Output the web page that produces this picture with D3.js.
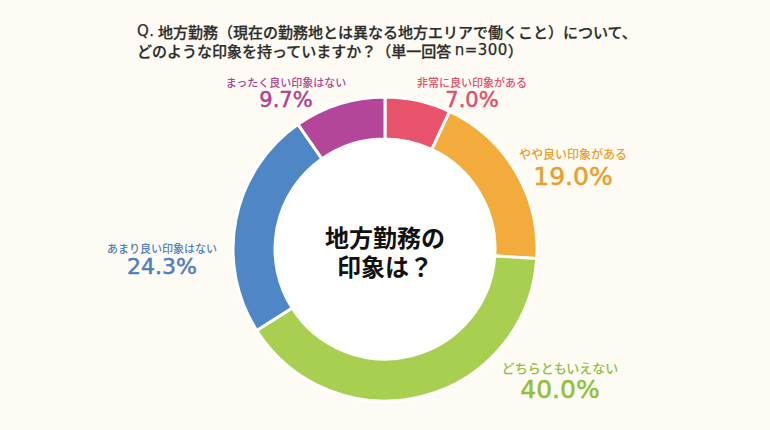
<!DOCTYPE html>
<html>
<head>
<meta charset="utf-8">
<script src="https://cdn.jsdelivr.net/npm/d3@7"></script>
<style>
  html, body { margin: 0; padding: 0; background: #fdfbf4; }
  svg { display: block; font-family: "Noto Sans CJK JP", "Noto Sans", sans-serif; }
  .latin, .pct { font-family: "DejaVu Sans", sans-serif; }
</style>
</head>
<body>
<svg id="chart" width="770" height="430"></svg>
<script>
// data
const categories = ['非常に良い印象がある', 'やや良い印象がある', 'どちらともいえない', 'あまり良い印象はない', 'まったく良い印象はない'];
const values = [7.0, 19.0, 40.0, 24.3, 9.7];
const colors = ['#e8526b', '#f3ac3c', '#a8cf4f', '#4f86c6', '#b3459a'];
const labelColors = ['#e04f69', '#eb9d2c', '#8fbf3b', '#4c7fc0', '#b0428f'];
const titleLines = ['Q. 地方勤務（現在の勤務地とは異なる地方エリアで働くこと）について、', 'どのような印象を持っていますか？（単一回答 n=300）'];
const centerLines = ['地方勤務の', '印象は？'];

// layout
const W = 770, H = 430;
const cx = 385, cy = 249;
const outerR = 152, innerR = 110;
// hand-placed labels, relative to the centre: [x, name y, percent baseline, name size, percent size]
const labelLayout = [
    [87, -167, -142, 11, 21],
    [188, -96, -64, 12, 25],
    [175, 118, 149, 13, 25],
    [-223, -1, 25, 11, 22],
    [-99, -167, -142, 11, 21]
];

const svg = d3.select('#chart');

svg.append('rect')
    .attr('width', W)
    .attr('height', H)
    .attr('fill', '#fdfbf4');

// title: latin runs get a wider face, like the original
const isLatin = s => /^[A-Za-z0-9=.]+$/.test(s);
const title = svg.append('g')
    .selectAll('text')
    .data(titleLines)
    .enter()
    .append('text')
    .attr('x', 137)
    .attr('y', (d, i) => 31 + i * 19)
    .attr('dominant-baseline', 'central')
    .attr('font-size', 15)
    .attr('font-weight', 500)
    .attr('fill', '#2b2b2b')
    .attr('stroke', '#2b2b2b')
    .attr('stroke-width', 0.25);

title.each(function (d) {
    const parts = d.split(/([A-Za-z0-9=.]+)/).filter(s => s.length);
    d3.select(this)
        .selectAll('tspan')
        .data(parts)
        .enter()
        .append('tspan')
        .attr('class', s => isLatin(s) ? 'latin' : null)
        .attr('letter-spacing', s => isLatin(s) ? 0.5 : null)
        .text(s => s);
});

const pie = d3.pie().sort(null).value(d => d);
const arc = d3.arc().innerRadius(innerR).outerRadius(outerR);

const g = svg.append('g').attr('transform', `translate(${cx},${cy})`);

g.append('circle')
    .attr('r', innerR)
    .attr('fill', '#fff');

g.selectAll('path')
    .data(pie(values))
    .enter()
    .append('path')
    .attr('d', arc)
    .attr('fill', (d, i) => colors[i])
    .attr('stroke', '#fff')
    .attr('stroke-width', 3);

g.append('g')
    .selectAll('text')
    .data(centerLines)
    .enter()
    .append('text')
    .attr('x', 0)
    .attr('y', (d, i) => -13 + i * 29)
    .attr('text-anchor', 'middle')
    .attr('dominant-baseline', 'central')
    .attr('font-size', 24)
    .attr('font-weight', 'bold')
    .attr('fill', '#111')
    .text(d => d);

const labels = g.append('g')
    .selectAll('g')
    .data(categories)
    .enter()
    .append('g')
    .attr('transform', (d, i) => `translate(${labelLayout[i][0]},0)`);

labels.append('text')
    .attr('y', (d, i) => labelLayout[i][1])
    .attr('text-anchor', 'middle')
    .attr('dominant-baseline', 'central')
    .attr('font-size', (d, i) => labelLayout[i][3])
    .attr('font-weight', 500)
    .attr('fill', (d, i) => labelColors[i])
    .text(d => d);

labels.append('text')
    .attr('class', 'pct')
    .attr('y', (d, i) => labelLayout[i][2])
    .attr('text-anchor', 'middle')
    .attr('font-size', (d, i) => labelLayout[i][4])
    .attr('fill', (d, i) => labelColors[i])
    .attr('stroke', (d, i) => labelColors[i])
    .attr('stroke-width', 0.5)
    .text((d, i) => values[i].toFixed(1) + '%');
</script>
</body>
</html>
